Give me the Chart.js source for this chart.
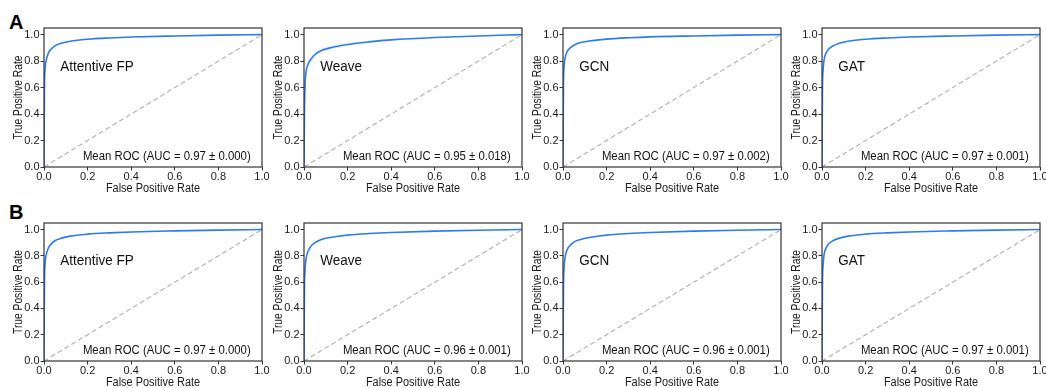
<!DOCTYPE html>
<html>
<head>
<meta charset="utf-8">
<script src="https://cdn.jsdelivr.net/npm/chart.js@4.4.1/dist/chart.umd.min.js"></script>
<style>
  html, body { margin: 0; padding: 0; background: #fff; }
  body { width: 1046px; height: 388px; position: relative; overflow: hidden; font-family: "Liberation Sans", Arial, sans-serif; }
  .wrap { position: absolute; }
  .letter { position: absolute; font-weight: bold; font-size: 20px; color: #000; line-height: 1; }
</style>
</head>
<body>
<div class="letter" style="left:9px; top:12px;">A</div>
<div class="letter" style="left:9px; top:202px;">B</div>

<script>
// ---------- data ----------
const fprPoints = [0, 0.002, 0.005, 0.008, 0.012, 0.02, 0.03, 0.05, 0.08, 0.12, 0.2, 0.3, 0.4, 0.6, 0.8, 1.0];

const modelNames = ['Attentive FP', 'Weave', 'GCN', 'GAT'];

const aucLabelsA = ['Mean ROC (AUC = 0.97 \u00b1 0.000)', 'Mean ROC (AUC = 0.95 \u00b1 0.018)', 'Mean ROC (AUC = 0.97 \u00b1 0.002)', 'Mean ROC (AUC = 0.97 \u00b1 0.001)'];
const aucLabelsB = ['Mean ROC (AUC = 0.97 \u00b1 0.000)', 'Mean ROC (AUC = 0.96 \u00b1 0.001)', 'Mean ROC (AUC = 0.96 \u00b1 0.001)', 'Mean ROC (AUC = 0.97 \u00b1 0.001)'];

const tprAttentiveA = [0, 0.60, 0.74, 0.79, 0.82, 0.86, 0.885, 0.915, 0.935, 0.95, 0.965, 0.975, 0.982, 0.990, 0.996, 1.0];
const tprWeaveA     = [0, 0.40, 0.62, 0.70, 0.745, 0.78, 0.81, 0.85, 0.88, 0.90, 0.925, 0.945, 0.960, 0.978, 0.990, 1.0];
const tprWeaveAUp   = [0, 0.46, 0.66, 0.73, 0.77, 0.80, 0.83, 0.87, 0.895, 0.915, 0.937, 0.955, 0.968, 0.984, 0.994, 1.0];
const tprWeaveALow  = [0, 0.34, 0.58, 0.67, 0.72, 0.76, 0.79, 0.83, 0.865, 0.885, 0.913, 0.935, 0.952, 0.972, 0.986, 1.0];
const tprGcnA       = [0, 0.62, 0.76, 0.81, 0.84, 0.875, 0.895, 0.92, 0.94, 0.952, 0.966, 0.976, 0.983, 0.990, 0.996, 1.0];
const tprGatA       = [0, 0.58, 0.73, 0.79, 0.83, 0.865, 0.89, 0.915, 0.935, 0.95, 0.965, 0.975, 0.982, 0.990, 0.996, 1.0];

const tprAttentiveB = [0, 0.60, 0.74, 0.79, 0.82, 0.86, 0.885, 0.915, 0.935, 0.95, 0.965, 0.975, 0.982, 0.990, 0.996, 1.0];
const tprWeaveB     = [0, 0.55, 0.70, 0.76, 0.80, 0.84, 0.87, 0.90, 0.925, 0.94, 0.958, 0.970, 0.978, 0.988, 0.995, 1.0];
const tprGcnB       = [0, 0.55, 0.71, 0.77, 0.81, 0.85, 0.875, 0.905, 0.925, 0.94, 0.958, 0.970, 0.978, 0.988, 0.995, 1.0];
const tprGatB       = [0, 0.58, 0.73, 0.79, 0.83, 0.865, 0.89, 0.915, 0.935, 0.95, 0.965, 0.975, 0.982, 0.990, 0.996, 1.0];

const axisTicks = [0, 0.2, 0.4, 0.6, 0.8, 1.0];
const chanceLine = [0, 1];
const xTitle = 'False Positive Rate';
const yTitle = 'True Positive Rate';

// ---------- layout ----------
const FONT = '"Liberation Sans", Arial, sans-serif';
const plotLefts = [44, 304, 563, 822];
const PLOT_W = 218;
const Y_AXIS_W = 44;
const PAD_R = 12;
const rows = [
  { top: 20, height: 175, xAxisH: 28, auc: aucLabelsA,
    tprs: [tprAttentiveA, tprWeaveA, tprGcnA, tprGatA],
    bands: [null, [tprWeaveALow, tprWeaveAUp], null, null] },
  { top: 215, height: 173, xAxisH: 27, auc: aucLabelsB,
    tprs: [tprAttentiveB, tprWeaveB, tprGcnB, tprGatB],
    bands: [null, null, null, null] }
];

function squeezedText(ctx, text, x, y, sx, rot) {
  ctx.save();
  ctx.translate(x, y);
  if (rot) ctx.rotate(rot);
  ctx.scale(sx, 1);
  ctx.fillText(text, 0, 0);
  ctx.restore();
}

const boxAndText = {
  id: 'boxAndText',
  afterDatasetsDraw(chart, args, opts) {
    const { ctx, chartArea: a, scales } = chart;
    ctx.save();
    ctx.strokeStyle = '#333';
    ctx.lineWidth = 1.2;
    ctx.strokeRect(a.left, a.top, a.right - a.left, a.bottom - a.top);
    ctx.fillStyle = '#111';
    ctx.textBaseline = 'middle';
    // model name
    ctx.font = '15.5px ' + FONT;
    ctx.textAlign = 'left';
    squeezedText(ctx, opts.name, scales.x.getPixelForValue(0.075), scales.y.getPixelForValue(0.76), 0.87);
    // AUC label
    ctx.font = '12.5px ' + FONT;
    ctx.textAlign = 'right';
    squeezedText(ctx, opts.auc, scales.x.getPixelForValue(0.948), scales.y.getPixelForValue(0.078), 0.91);
    // axis titles
    ctx.fillStyle = '#1a1a1a';
    ctx.textAlign = 'center';
    ctx.font = '12.5px ' + FONT;
    squeezedText(ctx, xTitle, (a.left + a.right) / 2, a.bottom + 22, 0.875);
    squeezedText(ctx, yTitle, a.left - 25, (a.top + a.bottom) / 2, 0.82, -Math.PI / 2);
    ctx.restore();
  }
};

const toPts = (xs, ys) => xs.map((x, i) => ({ x: x, y: ys[i] }));

rows.forEach((row, r) => {
  plotLefts.forEach((pl, c) => {
    const wrap = document.createElement('div');
    wrap.className = 'wrap';
    const w = Y_AXIS_W + PLOT_W + PAD_R;
    wrap.style.left = (pl - Y_AXIS_W) + 'px';
    wrap.style.top = row.top + 'px';
    wrap.style.width = w + 'px';
    wrap.style.height = row.height + 'px';
    const cv = document.createElement('canvas');
    cv.width = w; cv.height = row.height;
    cv.style.width = w + 'px'; cv.style.height = row.height + 'px';
    wrap.appendChild(cv);
    document.body.appendChild(wrap);

    const datasets = [];
    const band = row.bands[c];
    if (band) {
      datasets.push({ data: toPts(fprPoints, band[0]), borderWidth: 0, pointRadius: 0, fill: false,
        cubicInterpolationMode: 'monotone', borderColor: 'rgba(0,0,0,0)' });
      datasets.push({ data: toPts(fprPoints, band[1]), borderWidth: 0, pointRadius: 0, fill: '-1',
        backgroundColor: 'rgba(90,150,245,0.10)', cubicInterpolationMode: 'monotone', borderColor: 'rgba(0,0,0,0)' });
    }
    datasets.push({ data: toPts(chanceLine, chanceLine), borderColor: '#b4b4b4', borderWidth: 1.2,
      borderDash: [5, 3], pointRadius: 0, fill: false });
    datasets.push({ data: toPts(fprPoints, row.tprs[c]), borderColor: '#2b7bf2', borderWidth: 1.6,
      pointRadius: 0, fill: false, cubicInterpolationMode: 'monotone' });

    new Chart(cv, {
      type: 'line',
      data: { datasets },
      options: {
        responsive: false,
        animation: false,
        events: [],
        layout: { padding: { left: 0, right: PAD_R, top: 8, bottom: 0 } },
        plugins: {
          legend: { display: false },
          tooltip: { enabled: false },
          boxAndText: { name: modelNames[c], auc: row.auc[c] }
        },
        scales: {
          x: {
            type: 'linear', min: 0, max: 1,
            afterBuildTicks: s => { s.ticks = axisTicks.map(v => ({ value: v })); },
            afterFit: s => { s.height = row.xAxisH; },
            border: { display: false },
            grid: { drawOnChartArea: false, drawTicks: true, tickLength: 3.5, color: '#333', tickWidth: 1 },
            ticks: { padding: 0, maxRotation: 0, autoSkip: false, color: '#1a1a1a', font: { family: FONT, size: 11 },
              callback: v => Number(v).toFixed(1) },
            title: { display: false }
          },
          y: {
            type: 'linear', min: 0, max: 1.05,
            afterBuildTicks: s => { s.ticks = axisTicks.map(v => ({ value: v })); },
            afterFit: s => { s.width = Y_AXIS_W; },
            border: { display: false },
            grid: { drawOnChartArea: false, drawTicks: true, tickLength: 3.5, color: '#333', tickWidth: 1 },
            ticks: { padding: 1, autoSkip: false, color: '#1a1a1a', font: { family: FONT, size: 11 },
              callback: v => Number(v).toFixed(1) },
            title: { display: false }
          }
        }
      },
      plugins: [boxAndText]
    });
  });
});
</script>
</body>
</html>
